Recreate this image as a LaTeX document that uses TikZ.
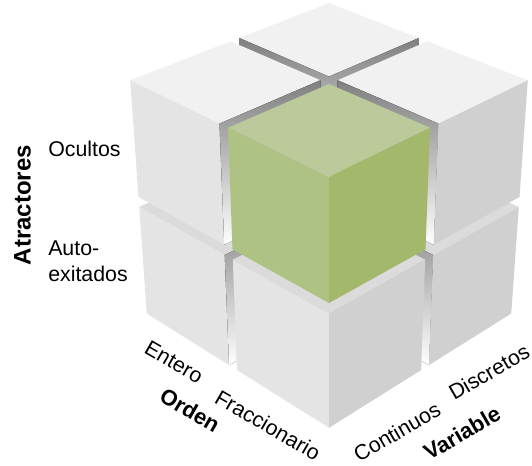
\documentclass[tikz,border=0pt]{standalone}
\usepackage{fontspec}
\setmainfont{Liberation Sans}
\usepackage{tikz}

\definecolor{topface}{HTML}{F1F1F1}
\definecolor{leftface}{HTML}{E4E4E4}
\definecolor{rightface}{HTML}{D0D0D0}
\definecolor{lowtop}{HTML}{DBDBDB}
\definecolor{shade}{HTML}{C6C6C6}
\definecolor{greentop}{HTML}{BCCA9B}
\definecolor{greenleft}{HTML}{AEC284}
\definecolor{greenright}{HTML}{A3B86A}

% perspective view of the block, in pixels
\tikzset{
  declare function={
    dep(\X,\Y,\Z)=12-0.866*(\X+\Y-2.09)/1.4142-0.5*(\Z-1.045);
    pu(\X,\Y,\Z)=329+1544*(\Y-\X)/1.4142/dep(\X,\Y,\Z);
    pv(\X,\Y,\Z)=202+1544*(0.5*(\X+\Y-2.09)/1.4142-0.866*(\Z-1.045))/dep(\X,\Y,\Z);
  },
  lbl/.style={font=\fontsize{16}{19}\selectfont, inner sep=0pt},
  lblb/.style={font=\fontsize{16.5}{19}\selectfont\bfseries, inner sep=0pt},
}
\newcommand{\cpt}[3]{({pu(#1,#2,#3)},{pv(#1,#2,#3)})}
% cube at corner (#1,#2,#3): top, left and right face colours
\newcommand{\drawcube}[6]{%
  \fill[#4] \cpt{#1}{#2}{#3+1} -- \cpt{#1+1}{#2}{#3+1} -- \cpt{#1+1}{#2+1}{#3+1} -- \cpt{#1}{#2+1}{#3+1} -- cycle;
  \fill[#5] \cpt{#1+1}{#2}{#3+1} -- \cpt{#1+1}{#2+1}{#3+1} -- \cpt{#1+1}{#2+1}{#3} -- \cpt{#1+1}{#2}{#3} -- cycle;
  \fill[#6] \cpt{#1}{#2+1}{#3+1} -- \cpt{#1+1}{#2+1}{#3+1} -- \cpt{#1+1}{#2+1}{#3} -- \cpt{#1}{#2+1}{#3} -- cycle;
}

\begin{document}
\begin{tikzpicture}[x=0.75pt,y=0.75pt,yscale=-1,xscale=1]
\useasboundingbox (0,0) rectangle (532,465);

%Cubes, lower layer
\drawcube{0}{0}{0}{shade}{shade}{shade}
\drawcube{1.09}{0}{0}{lowtop}{leftface}{shade}
\drawcube{0}{1.09}{0}{lowtop}{shade}{rightface}
\drawcube{1.09}{1.09}{0}{lowtop}{leftface}{rightface}
%Cubes, upper layer
\drawcube{0}{0}{1.09}{topface}{shade}{shade}
\drawcube{1.09}{0}{1.09}{topface}{leftface}{shade}
\drawcube{0}{1.09}{1.09}{topface}{shade}{rightface}
\drawcube{1.09}{1.09}{1.09}{greentop}{greenleft}{greenright}

% Text Node
\node [lblb, font=\fontsize{18}{20}\selectfont\bfseries, rotate=90] (atract) at (22.5,205) {Atractores};
% Text Node
\node [lbl, anchor=west] (ocultos) at (48,149) {Ocultos};
% Text Node
\node [lbl, anchor=north west, align=left] (autoexc) at (48,241) {Auto-\\exitados};
% Text Node
\node [lbl, rotate=-30] (entero) at (174,362) {Entero};
% Text Node
\node [lblb, rotate=-30] (orden) at (190,410) {Orden};
% Text Node
\node [lbl, rotate=-30] (fracc) at (268,425) {Fraccionario};
% Text Node
\node [lbl, rotate=30] (contin) at (397,432) {Continuos};
% Text Node
\node [lblb, rotate=30] (variab) at (462,433) {Variable};
% Text Node
\node [lbl, rotate=30] (discr) at (489,372) {Discretos};

\end{tikzpicture}
\end{document}
